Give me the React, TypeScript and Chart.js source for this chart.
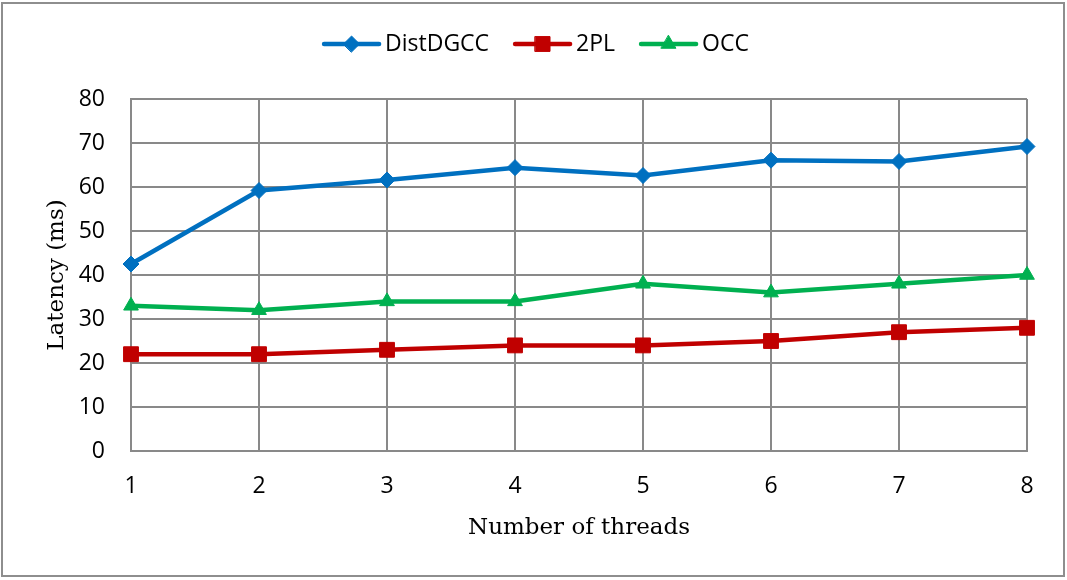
import { useEffect, useRef } from "react";
import { Chart, registerables } from "chart.js";
import { drawPoint } from "chart.js/helpers";

Chart.register(...registerables);

// Thread counts on the x axis
const threads = ["1", "2", "3", "4", "5", "6", "7", "8"];

// Latency in milliseconds per protocol
const distDGCC = [42.5, 59.2, 61.6, 64.4, 62.6, 66.1, 65.8, 69.2];
const twoPL = [22, 22, 23, 24, 24, 25, 27, 28];
const occ = [33, 32, 34, 34, 38, 36, 38, 40];

// Value axis range
const yMin = 0;
const yMax = 80;
const yStep = 10;

const seriesNames = ["DistDGCC", "2PL", "OCC"];

// Styling
const seriesColors = ["#0070C0", "#C00000", "#00B050"];
const pointShapes = ["rectRot", "rect", "triangle"];
const pointRadii = [8, 10.5, 8.5];
const gridColor = "#898989";
const sansFont = "'Open Sans', 'Noto Sans', sans-serif";
const serifFont = "'DejaVu Serif', serif";

// Legend drawn as line + marker samples, centred above the plot
const lineLegend = {
  id: "lineLegend",
  afterDraw(chart: any) {
    const ctx: CanvasRenderingContext2D = chart.ctx;
    const datasets = chart.data.datasets;
    const lineLen = 55;
    const textGap = 6;
    const itemGap = 26;
    const cy = 44;
    ctx.save();
    ctx.font = `23px ${sansFont}`;
    const widths = datasets.map((d: any) => ctx.measureText(d.label).width);
    const total =
      widths.reduce((acc: number, w: number) => acc + lineLen + textGap + w, 0) +
      itemGap * (datasets.length - 1);
    let x = chart.width / 2 + 3 - total / 2;
    datasets.forEach((d: any, i: number) => {
      ctx.strokeStyle = d.borderColor;
      ctx.lineWidth = 4.5;
      ctx.lineCap = "round";
      ctx.beginPath();
      ctx.moveTo(x, cy);
      ctx.lineTo(x + lineLen, cy);
      ctx.stroke();
      ctx.fillStyle = d.pointBackgroundColor;
      ctx.strokeStyle = d.pointBorderColor;
      ctx.lineWidth = 1;
      drawPoint(
        ctx,
        { pointStyle: d.pointStyle, radius: d.pointRadius, rotation: 0, borderWidth: 1 } as any,
        x + lineLen / 2,
        cy
      );
      ctx.fillStyle = "#000";
      ctx.textBaseline = "middle";
      ctx.textAlign = "left";
      ctx.fillText(d.label, x + lineLen + textGap, cy);
      x += lineLen + textGap + widths[i] + itemGap;
    });
    ctx.restore();
  },
};

export default function App() {
  const canvasRef = useRef<HTMLCanvasElement | null>(null);

  useEffect(() => {
    if (!canvasRef.current) return;
    const values = [distDGCC, twoPL, occ];
    const chart = new Chart(canvasRef.current, {
      type: "line",
      data: {
        labels: threads,
        datasets: values.map((v, i) => ({
          label: seriesNames[i],
          data: v,
          borderColor: seriesColors[i],
          backgroundColor: seriesColors[i],
          pointBackgroundColor: seriesColors[i],
          pointBorderColor: seriesColors[i],
          pointStyle: pointShapes[i] as any,
          pointRadius: pointRadii[i],
          pointBorderWidth: 1,
          borderWidth: 4.5,
          tension: 0,
          fill: false,
          clip: false as any,
        })),
      },
      options: {
        responsive: false,
        animation: false,
        devicePixelRatio: 1,
        layout: { padding: { top: 99, right: 40, bottom: 0, left: 0 } },
        plugins: {
          legend: { display: false },
          tooltip: { enabled: false },
        },
        scales: {
          x: {
            offset: false,
            grid: { color: gridColor, lineWidth: 2, drawTicks: false },
            border: { color: gridColor, width: 2 },
            ticks: { color: "#000", font: { family: sansFont, size: 23 }, padding: 22 },
            title: {
              display: true,
              text: "Number of threads",
              color: "#000",
              font: { family: serifFont, size: 23 },
              padding: { top: 0, bottom: 38 },
            },
            afterFit: (s: any) => {
              s.height = 129;
            },
          },
          y: {
            min: yMin,
            max: yMax,
            grid: { color: gridColor, lineWidth: 2, drawTicks: false },
            border: { color: gridColor, width: 2 },
            ticks: {
              stepSize: yStep,
              color: "#000",
              font: { family: sansFont, size: 23 },
              padding: 26,
            },
            title: {
              display: true,
              text: "Latency (ms)",
              color: "#000",
              font: { family: serifFont, size: 23 },
              padding: { top: 43, bottom: 0 },
            },
            afterFit: (s: any) => {
              s.width = 131;
            },
          },
        },
      },
      plugins: [lineLegend],
    });
    return () => chart.destroy();
  }, []);

  return (
    <div
      style={{
        position: "fixed",
        left: 0,
        top: 0,
        width: 1067,
        height: 580,
        background: "#fff",
      }}
    >
      <canvas
        ref={canvasRef}
        width={1067}
        height={580}
        style={{ position: "absolute", left: 0, top: 0, width: 1067, height: 580 }}
      />
      <div
        style={{
          position: "absolute",
          left: 1,
          top: 2,
          width: 1064,
          height: 575,
          border: "2px solid #8e8e8e",
          boxSizing: "border-box",
          pointerEvents: "none",
        }}
      />
    </div>
  );
}
